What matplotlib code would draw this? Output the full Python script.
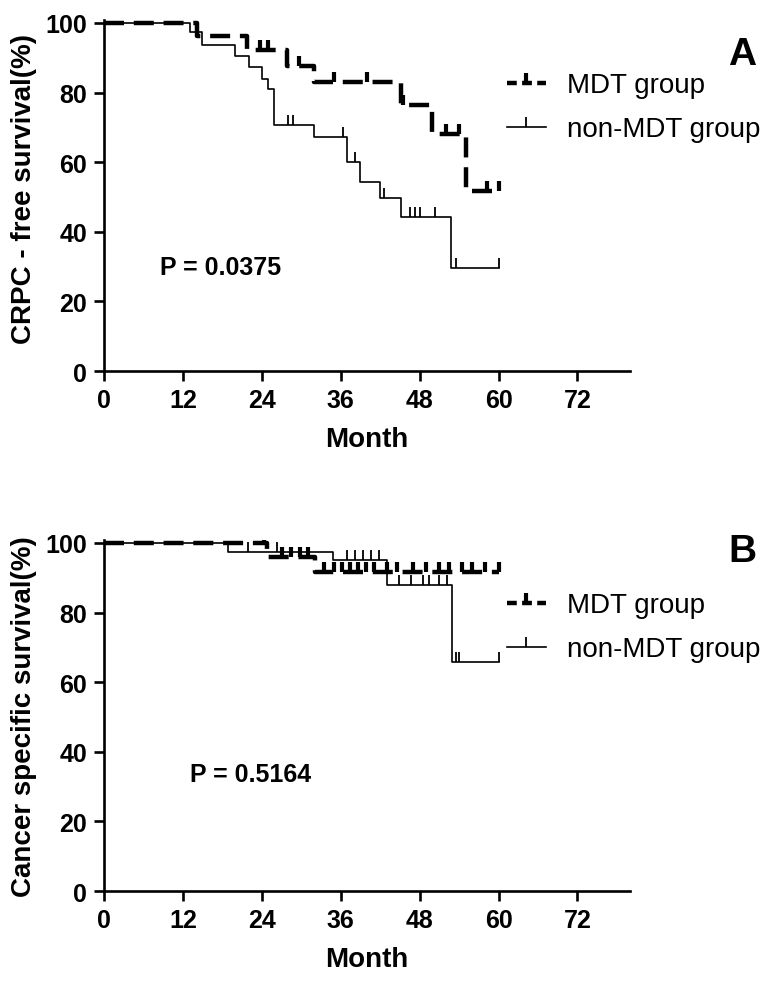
import numpy as np
import matplotlib.pyplot as plt
from matplotlib.lines import Line2D

plt.rcParams['font.family'] = ['Liberation Sans', 'DejaVu Sans']

# Panel A - CRPC-free survival
a_mdt_t = [0, 14.1, 21.7, 27.8, 31.9, 45.1, 49.9, 55.0, 60]
a_mdt_s = [100, 96.2, 92.3, 87.7, 83.1, 76.4, 68.1, 51.8, 51.8]
a_mdt_cens = [23.7, 25.0, 29.7, 35.0, 40.0, 45.5, 52.0, 54.0, 58.2, 60]

a_non_t = [0, 13.1, 14.9, 19.9, 22.0, 24.0, 25.0, 25.8, 31.9, 37.0, 38.9, 42.0, 45.1, 52.8, 60]
a_non_s = [100, 97.3, 93.8, 90.4, 87.3, 83.9, 81.0, 70.7, 67.1, 60.0, 54.2, 49.8, 44.2, 29.5, 29.5]
a_non_cens = [28.0, 28.7, 36.3, 38.1, 42.6, 46.6, 47.3, 48.0, 50.3, 53.5, 60]

# Panel B - cancer specific survival
b_mdt_t = [0, 24.8, 32.1, 60]
b_mdt_s = [100, 96.0, 91.8, 91.8]
b_mdt_cens = [24.3, 27.0, 28.5, 29.8, 31.0, 33.5, 35.0, 36.2, 37.4, 38.6, 39.8, 41.0,
              43.0, 44.5, 47.0, 49.0, 51.0, 52.5, 54.5, 56.0, 58.0, 60]

b_non_t = [0, 18.9, 34.9, 43.0, 52.9, 60]
b_non_s = [100, 97.3, 95.0, 88.0, 65.7, 65.7]
b_non_cens = [21.9, 26.3, 37.0, 38.2, 39.4, 40.6, 41.8, 44.8, 46.7, 48.5, 49.4, 50.9,
              52.2, 53.5, 54.0, 60]

x_ticks = [0, 12, 24, 36, 48, 60, 72]
y_ticks = [0, 20, 40, 60, 80, 100]


def level_at(t, s, c):
    t = np.asarray(t)
    s = np.asarray(s)
    idx = np.searchsorted(t, c, side='right') - 1
    return s[idx]


def km_panel(ax, mdt_t, mdt_s, mdt_c, non_t, non_s, non_c, ylabel, ptext, ppos, ylab_y):
    # thin solid = non-MDT, thick dashed = MDT, tick-up marks = censored
    ax.step(non_t, non_s, where='post', color='black', lw=1.2)
    ax.plot(non_c, level_at(non_t, non_s, non_c), ls='none', marker=2,
            ms=7, mew=1.3, color='black')
    ax.step(mdt_t, mdt_s, where='post', color='black', lw=3.2, dashes=(4.5, 2.2))
    ax.plot(mdt_c, level_at(mdt_t, mdt_s, mdt_c), ls='none', marker=2,
            ms=7, mew=3.0, color='black')

    ax.set_xlim(0, 80)
    ax.set_ylim(0, 101)
    ax.set_xticks(x_ticks)
    ax.set_yticks(y_ticks)
    for sp in ['top', 'right']:
        ax.spines[sp].set_visible(False)
    for sp in ['left', 'bottom']:
        ax.spines[sp].set_linewidth(1.9)
    ax.tick_params(axis='x', width=1.9, length=7, labelsize=18, pad=5)
    ax.tick_params(axis='y', width=1.9, length=7, labelsize=18, pad=5)
    for lab in ax.get_xticklabels() + ax.get_yticklabels():
        lab.set_fontweight('bold')
    ax.set_xlabel('Month', fontsize=20, fontweight='bold', labelpad=10)
    ax.set_ylabel(ylabel, fontsize=20, fontweight='bold')
    ax.yaxis.set_label_coords(-0.128, ylab_y)

    ax.text(ppos[0], ppos[1], ptext, fontsize=18, fontweight='bold', ha='left', va='center')

    handles = [
        Line2D([], [], color='black', lw=3.2, dashes=(2.2, 1.2), marker=2, ms=7, mew=3.0),
        Line2D([], [], color='black', lw=1.2, marker=2, ms=7, mew=1.3),
    ]
    ax.legend(handles, ['MDT group', 'non-MDT group'], loc='upper left',
              bbox_to_anchor=(0.766, 0.85), frameon=False, fontsize=20,
              handlelength=1.4, handletextpad=0.75, labelspacing=0.65,
              borderpad=0, borderaxespad=0)
    return ax


fig = plt.figure(figsize=(7.84, 9.95), dpi=100)
ax_a = fig.add_axes([104 / 784, 1 - 372 / 995, 526 / 784, 351.5 / 995])
ax_b = fig.add_axes([104 / 784, 1 - 892 / 995, 526 / 784, 351.5 / 995])

km_panel(ax_a, a_mdt_t, a_mdt_s, a_mdt_cens, a_non_t, a_non_s, a_non_cens,
         'CRPC - free survival(%)', 'P = 0.0375', (8.5, 30), 0.52)
km_panel(ax_b, b_mdt_t, b_mdt_s, b_mdt_cens, b_non_t, b_non_s, b_non_cens,
         'Cancer specific survival(%)', 'P = 0.5164', (13.1, 33.6), 0.5)

fig.text(742 / 784, 1 - 55 / 995, 'A', fontsize=28, fontweight='bold', ha='center', va='center')
fig.text(742 / 784, 1 - 552 / 995, 'B', fontsize=28, fontweight='bold', ha='center', va='center')

fig.savefig('out.png', dpi=100)
